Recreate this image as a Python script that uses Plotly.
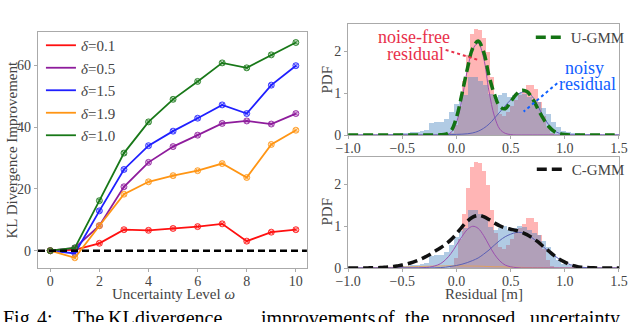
"""
KL-Divergenz-Verbesserung + Residuen-Histogramme (U-GMM / C-GMM)
"""

import plotly.graph_objects as go

# ---------------- data: left panel ----------------
OMEGA = [0, 1, 2, 3, 4, 5, 6, 7, 8, 9, 10]
DELTA_LABELS = ["0.1", "0.5", "1.5", "1.9", "1.0"]
KL_D01 = [0, 0.3, 2.4, 6.8, 6.6, 7.2, 7.8, 8.7, 3.1, 6.0, 6.8]
KL_D05 = [0, 0.9, 8.1, 20.7, 28.6, 33.7, 37.4, 41.2, 42.0, 41.0, 44.4]
KL_D15 = [0, -0.9, 12.9, 26.3, 34.0, 38.7, 42.9, 47.2, 44.4, 53.6, 59.9]
KL_D19 = [0, -2.3, 8.1, 18.3, 22.3, 24.3, 25.9, 28.2, 23.7, 34.4, 39.0]
KL_D10 = [0, 0.9, 16.2, 31.6, 41.7, 49.0, 54.8, 60.8, 59.2, 63.4, 67.4]
KL_TICKS = [0, 20, 40, 60]
OMEGA_TICKS = [0, 2, 4, 6, 8, 10]

# ---------------- data: histograms ----------------
# noise-free residual (bin centres, density)
FREE_CENTERS = [-0.0395, -0.0025, 0.0345, 0.0715, 0.1085, 0.1455, 0.1825, 0.2195,
                0.2565, 0.2935, 0.3305, 0.3675, 0.4045, 0.4415, 0.4785, 0.5155,
                0.5525, 0.5895, 0.6265, 0.6635, 0.7005, 0.7375, 0.7745, 0.8115,
                0.8485, 0.8855]
FREE_DENSITY = [0.05, 0.25, 0.7, 1.3, 1.92, 2.41, 2.54, 2.51,
                2.33, 2.0, 1.4, 0.85, 0.5, 0.45, 0.55, 0.7,
                0.85, 0.95, 1.05, 1.2, 1.2, 1.1, 0.8, 0.45,
                0.2, 0.06]
FREE_BIN = 0.037

# noisy residual
NOISY_CENTERS = [-0.6775, -0.6325, -0.5875, -0.5425, -0.4975, -0.4525, -0.4075, -0.3625,
                 -0.3175, -0.2725, -0.2275, -0.1825, -0.1375, -0.0925, -0.0475, -0.0025,
                 0.0425, 0.0875, 0.1325, 0.1775, 0.2225, 0.2675, 0.3125, 0.3575,
                 0.4025, 0.4475, 0.4925, 0.5375, 0.5825, 0.6275, 0.6725, 0.7175,
                 0.7625, 0.8075, 0.8525, 0.8975, 0.9425, 0.9875, 1.0325, 1.0775,
                 1.1225, 1.1675, 1.2125, 1.2575]
NOISY_DENSITY = [0.02, 0.03, 0.02, 0.03, 0.04, 0.05, 0.08, 0.07,
                 0.1, 0.12, 0.28, 0.32, 0.3, 0.38, 0.55, 0.75,
                 0.88, 0.95, 1.4, 1.38, 1.3, 1.2, 0.98, 0.92,
                 0.95, 1.0, 0.9, 0.95, 1.0, 0.98, 0.9, 0.85,
                 0.78, 0.65, 0.5, 0.3, 0.18, 0.1, 0.08, 0.06,
                 0.05, 0.03, 0.02, 0.01]
NOISY_BIN = 0.045

# ---------------- data: fitted GMM curves ----------------
RESID_X = [-1.0, -0.95, -0.9, -0.85, -0.8, -0.75, -0.7, -0.65, -0.6, -0.55,
           -0.5, -0.45, -0.4, -0.35, -0.3, -0.25, -0.2, -0.15, -0.1, -0.05,
           0.0, 0.05, 0.1, 0.15, 0.2, 0.25, 0.3, 0.35, 0.4, 0.45,
           0.5, 0.55, 0.6, 0.65, 0.7, 0.75, 0.8, 0.85, 0.9, 0.95,
           1.0, 1.05, 1.1, 1.15, 1.2, 1.25, 1.3, 1.35, 1.4, 1.45, 1.5]

U_GMM = [0, 0, 0, 0, 0, 0, 0, 0, 0, 0,
         0, 0, 0, 0, 0, 0, 0, 0.005, 0.02, 0.1,
         0.42, 0.98, 1.58, 2.08, 2.25, 2.0, 1.42, 0.98, 0.68, 0.63,
         0.8, 0.97, 1.07, 1.04, 0.88, 0.63, 0.4, 0.21, 0.09, 0.035,
         0.01, 0, 0, 0, 0, 0, 0, 0, 0, 0, 0]
U_COMP1 = [0, 0, 0, 0, 0, 0, 0, 0, 0, 0,
           0, 0, 0, 0, 0, 0, 0, 0, 0.01, 0.06,
           0.3, 0.85, 1.55, 2.05, 2.2, 1.85, 1.05, 0.45, 0.14, 0.04,
           0.01, 0, 0, 0, 0, 0, 0, 0, 0, 0,
           0, 0, 0, 0, 0, 0, 0, 0, 0, 0, 0]
U_COMP2 = [0, 0, 0, 0, 0, 0, 0, 0, 0, 0,
           0, 0, 0, 0, 0, 0, 0, 0, 0.005, 0.01,
           0.015, 0.02, 0.03, 0.05, 0.09, 0.16, 0.26, 0.4, 0.55, 0.7,
           0.84, 0.95, 1.02, 1.03, 0.92, 0.7, 0.45, 0.25, 0.11, 0.04,
           0.01, 0, 0, 0, 0, 0, 0, 0, 0, 0, 0]

C_GMM = [0, 0, 0, 0, 0.005, 0.008, 0.01, 0.02, 0.03, 0.05,
         0.07, 0.1, 0.14, 0.19, 0.25, 0.32, 0.4, 0.48, 0.57, 0.68,
         0.82, 0.98, 1.12, 1.22, 1.26, 1.23, 1.16, 1.08, 1.01, 0.96,
         0.93, 0.9, 0.86, 0.8, 0.72, 0.63, 0.52, 0.41, 0.3, 0.21,
         0.14, 0.08, 0.045, 0.02, 0.01, 0.005, 0, 0, 0, 0, 0]
C_COMP1 = [0, 0, 0, 0, 0, 0, 0, 0, 0, 0,
           0, 0, 0, 0, 0.01, 0.02, 0.05, 0.1, 0.2, 0.35,
           0.55, 0.75, 0.92, 1.0, 0.95, 0.78, 0.55, 0.33, 0.17, 0.07,
           0.03, 0.01, 0, 0, 0, 0, 0, 0, 0, 0,
           0, 0, 0, 0, 0, 0, 0, 0, 0, 0, 0]
C_COMP2 = [0, 0, 0, 0, 0, 0, 0, 0, 0, 0,
           0, 0, 0, 0, 0, 0, 0.005, 0.01, 0.02, 0.04,
           0.06, 0.09, 0.13, 0.18, 0.24, 0.33, 0.43, 0.55, 0.66, 0.75,
           0.81, 0.85, 0.85, 0.8, 0.72, 0.62, 0.51, 0.4, 0.3, 0.21,
           0.14, 0.08, 0.045, 0.02, 0.01, 0.005, 0, 0, 0, 0, 0]
C_COMP3 = [0, 0, 0, 0, 0.005, 0.008, 0.01, 0.012, 0.015, 0.02,
           0.022, 0.025, 0.03, 0.035, 0.04, 0.042, 0.045, 0.048, 0.05, 0.05,
           0.05, 0.05, 0.048, 0.046, 0.045, 0.04, 0.035, 0.03, 0.03, 0.025,
           0.02, 0.018, 0.015, 0.01, 0.008, 0.005, 0.005, 0, 0, 0,
           0, 0, 0, 0, 0, 0, 0, 0, 0, 0, 0]

RESID_TICKS = [-1.0, -0.5, 0.0, 0.5, 1.0, 1.5]
PDF_TICKS = [0, 1, 2]

CAPTION_WORDS = ["Fig.", "4:", "The", "KL", "divergence", "improvements",
                 "of", "the", "proposed", "uncertainty"]

# ---------------- styling ----------------
W, H = 640, 322
ML, MR, MT, MB = 38, 10, 24, 54
SERIF = "Liberation Serif, DejaVu Serif, serif"
GREY_TXT = "#444444"
SPINE = "#aaaaaa"
DELTA_COLORS = ["#ff1010", "#8e1c9c", "#1f1fff", "#ff9514", "#187818"]


def px_x(px):
    """Pixel -> paper x"""
    return (px - ML) / (W - ML - MR)


def px_y(py):
    """Pixel -> paper y"""
    return (H - MB - py) / (H - MT - MB)


def rgba(hex_color, alpha):
    r, g, b = (int(hex_color[i:i + 2], 16) for i in (1, 3, 5))
    return f"rgba({r},{g},{b},{alpha})"


def axis_style(**kw):
    base = dict(
        showline=True, linecolor=SPINE, linewidth=1.2, mirror=True,
        ticks="outside", ticklen=3, tickcolor=SPINE,
        showgrid=False, zeroline=False, automargin=False,
        tickfont=dict(family=SERIF, size=14, color=GREY_TXT),
    )
    base.update(kw)
    return base


fig = go.Figure()

# ---------------- left: KL improvement ----------------
kl_series = [KL_D01, KL_D05, KL_D15, KL_D19, KL_D10]
for label, vals, col in zip(DELTA_LABELS, kl_series, DELTA_COLORS):
    fig.add_trace(go.Scatter(
        x=OMEGA, y=vals, mode="lines", name=f"<i>δ</i>={label}",
        line=dict(color=col, width=1.8), xaxis="x", yaxis="y", legend="legend"
    ))
    fig.add_trace(go.Scatter(
        x=OMEGA, y=vals, mode="markers", showlegend=False,
        marker=dict(symbol="circle-x", size=6, color=rgba(col, 0.3),
                    line=dict(color=rgba(col, 0.8), width=1)),
        xaxis="x", yaxis="y"
    ))

# ---------------- right: histograms + GMM ----------------
for xa, ya in (("x2", "y2"), ("x3", "y3")):
    fig.add_trace(go.Bar(
        x=FREE_CENTERS, y=FREE_DENSITY, width=FREE_BIN,
        marker=dict(color="rgba(255,70,70,0.4)", line=dict(width=0)),
        showlegend=False, xaxis=xa, yaxis=ya
    ))
    fig.add_trace(go.Bar(
        x=NOISY_CENTERS, y=NOISY_DENSITY, width=NOISY_BIN,
        marker=dict(color="rgba(70,130,190,0.42)", line=dict(width=0)),
        showlegend=False, xaxis=xa, yaxis=ya
    ))

# component curves
for comp, col in ((U_COMP1, "#9b4fae"), (U_COMP2, "#5a5fb5")):
    fig.add_trace(go.Scatter(x=RESID_X, y=comp, mode="lines", line_shape="spline",
                             line=dict(color=col, width=1), showlegend=False,
                             xaxis="x2", yaxis="y2"))
for comp, col in ((C_COMP3, "#e0a060"), (C_COMP1, "#9b4fae"), (C_COMP2, "#5a5fb5")):
    fig.add_trace(go.Scatter(x=RESID_X, y=comp, mode="lines", line_shape="spline",
                             line=dict(color=col, width=1), showlegend=False,
                             xaxis="x3", yaxis="y3"))

fig.add_trace(go.Scatter(
    x=RESID_X, y=U_GMM, mode="lines", line_shape="spline", name="U-GMM",
    line=dict(color="#137313", width=3.5, dash="10px,5px"),
    xaxis="x2", yaxis="y2", legend="legend2"
))
fig.add_trace(go.Scatter(
    x=RESID_X, y=C_GMM, mode="lines", line_shape="spline", name="C-GMM",
    line=dict(color="#111111", width=3.5, dash="10px,5px"),
    xaxis="x3", yaxis="y3", legend="legend3"
))

# zero reference line on the KL plot
fig.add_shape(type="line", xref="x domain", yref="y", x0=0, x1=1, y0=0, y1=0,
              line=dict(color="black", width=2.5, dash="7px,4px"), layer="above")

# dotted pointers for the histogram labels
fig.add_shape(type="line", xref="x2", yref="y2", x0=-0.1, y0=2.04, x1=0.2, y1=1.8,
              line=dict(color="#e8304a", width=2, dash="dot"))
fig.add_shape(type="line", xref="x2", yref="y2", x0=0.93, y0=1.24, x1=0.62, y1=0.56,
              line=dict(color="#1060ff", width=2, dash="dot"))

annotations = []
for txt, cx, cy, col in (("noise-free", 421, 37, "#e8304a"),
                         ("residual", 423, 54, "#e8304a"),
                         ("noisy", 595, 68, "#1060ff"),
                         ("residual", 598, 84, "#1060ff")):
    annotations.append(dict(text=txt, x=px_x(cx), y=px_y(cy), xref="paper", yref="paper",
                            xanchor="center", yanchor="middle", showarrow=False,
                            borderpad=0, font=dict(family=SERIF, size=18, color=col)))

# axis titles placed directly
title_font = dict(family=SERIF, size=15, color=GREY_TXT)
for txt, cx, cy, angle in (("Uncertainty Level <i>ω</i>", 176, 294, 0),
                           ("Residual [m]", 492, 294, 0),
                           ("KL Divergence Improvement", 12, 150, -90),
                           ("PDF", 332, 80, -90),
                           ("PDF", 332, 212, -90)):
    annotations.append(dict(text=txt, x=px_x(cx), y=px_y(cy), xref="paper", yref="paper",
                            xanchor="center", yanchor="middle", textangle=angle,
                            showarrow=False, borderpad=0, font=title_font))

# caption (clipped at the bottom edge like the source page)
caption_x = [0, 35, 72, 107, 135, 263, 382, 410, 448, 537]
for word, wx in zip(CAPTION_WORDS, caption_x):
    annotations.append(dict(text=word, x=px_x(wx), y=px_y(305), xref="paper", yref="paper",
                            xanchor="left", yanchor="top", showarrow=False,
                            font=dict(family=SERIF, size=20, color="black")))

legend_base = dict(bgcolor="rgba(0,0,0,0)", borderwidth=0,
                   font=dict(family=SERIF, size=15, color=GREY_TXT))

fig.update_layout(
    width=W, height=H,
    margin=dict(l=ML, r=MR, t=MT, b=MB),
    paper_bgcolor="white", plot_bgcolor="white",
    barmode="overlay", bargap=0,
    font=dict(family=SERIF, color=GREY_TXT),
    xaxis=axis_style(domain=[0, px_x(312)], range=[-0.5, 10.45], tickvals=OMEGA_TICKS,
                     anchor="y", ticklabelstandoff=-3),
    yaxis=axis_style(domain=[0, px_y(32)], range=[-5.6, 70.8], tickvals=KL_TICKS,
                     anchor="x"),
    xaxis2=axis_style(domain=[px_x(354), 1], range=[-1, 1.5], tickvals=RESID_TICKS,
                      tickformat=".1f", anchor="y2", ticklabelstandoff=-3),
    yaxis2=axis_style(domain=[px_y(135), px_y(24)], range=[0, 2.66], tickvals=PDF_TICKS,
                      anchor="x2"),
    xaxis3=axis_style(domain=[px_x(354), 1], range=[-1, 1.5], tickvals=RESID_TICKS,
                      tickformat=".1f", anchor="y3", ticklabelstandoff=-3),
    yaxis3=axis_style(domain=[0, px_y(157)], range=[0, 2.66], tickvals=PDF_TICKS,
                      anchor="x3"),
    legend=dict(**legend_base, x=px_x(41), y=px_y(29), xanchor="left", yanchor="top",
                tracegroupgap=0, itemwidth=30),
    legend2=dict(**legend_base, x=px_x(641), y=px_y(21), xanchor="right", yanchor="top"),
    legend3=dict(**legend_base, x=px_x(641), y=px_y(153), xanchor="right", yanchor="top"),
    annotations=annotations,
)

# drop the default page margin so the figure sits at the window origin
fig.write_html("out.html", config={"displayModeBar": False},
               post_script="document.body.style.margin = '0';")
